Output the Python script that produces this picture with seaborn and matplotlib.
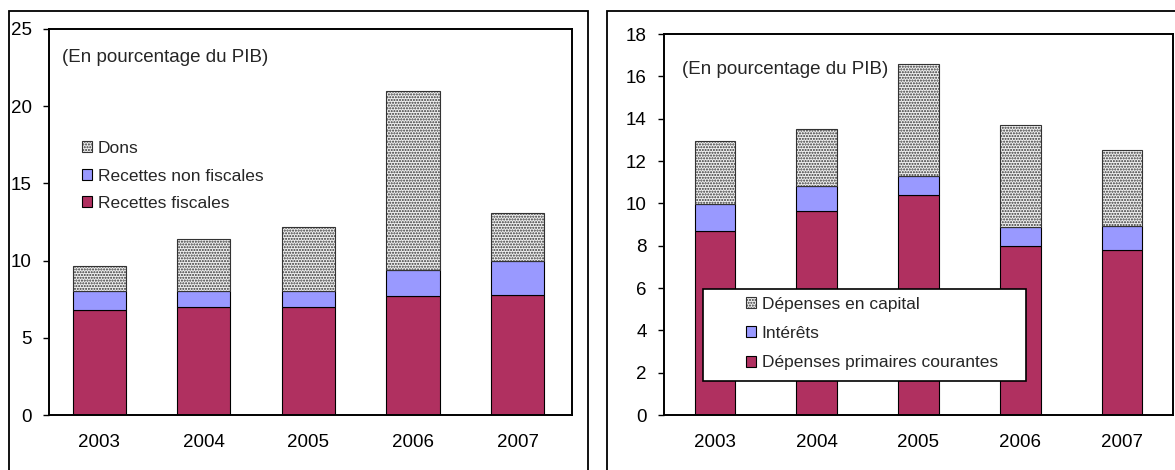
import numpy as np
import pandas as pd
import matplotlib
matplotlib.use("Agg")
import matplotlib.pyplot as plt
import seaborn as sns
from matplotlib.patches import Rectangle

annees = ['2003', '2004', '2005', '2006', '2007']

# Recettes (en % du PIB)
recettes_fiscales = [6.8, 7.0, 7.0, 7.7, 7.8]
recettes_non_fiscales = [1.2, 1.0, 1.0, 1.7, 2.2]
dons = [1.65, 3.4, 4.2, 11.6, 3.1]

# Dépenses (en % du PIB)
depenses_primaires = [8.7, 9.65, 10.4, 8.0, 7.8]
interets = [1.25, 1.15, 0.9, 0.9, 1.15]
depenses_capital = [3.0, 2.7, 5.3, 4.8, 3.55]

rouge = '#B03060'
lavande = '#9999FF'
taille = 13.5
taille_leg = 12.5

sns.set_theme(style='white')
plt.rcParams['font.family'] = ['Liberation Sans', 'DejaVu Sans']
plt.rcParams['hatch.linewidth'] = 1.0
plt.rcParams['hatch.color'] = '#444444'

fig = plt.figure(figsize=(11.75, 4.7), dpi=100)

# cadres extérieurs
fig.add_artist(Rectangle((0.0077, -0.05), 0.4928, 1.027, transform=fig.transFigure,
                         fill=False, edgecolor='black', linewidth=1.3))
fig.add_artist(Rectangle((0.5166, -0.05), 0.49, 1.027, transform=fig.transFigure,
                         fill=False, edgecolor='black', linewidth=1.3))

ax1 = fig.add_axes([0.0417, 0.117, 0.4451, 0.8213])
ax2 = fig.add_axes([0.5651, 0.117, 0.4332, 0.8106])


def empiler(ax, couches, largeur):
    bas = np.zeros(len(annees))
    for valeurs, couleur, motif, nom in couches:
        df = pd.DataFrame({'annee': annees, 'val': valeurs})
        if motif:
            sns.barplot(data=df, x='annee', y='val', ax=ax, color='#f0f0f0', width=largeur,
                        bottom=bas, edgecolor='#333333', hatch=motif, linewidth=0.8,
                        saturation=1, label=nom, errorbar=None)
        else:
            sns.barplot(data=df, x='annee', y='val', ax=ax, color=couleur, width=largeur,
                        bottom=bas, edgecolor='black', linewidth=0.8,
                        saturation=1, label=nom, errorbar=None)
        bas = bas + np.array(valeurs)


empiler(ax1, [(recettes_fiscales, rouge, None, 'Recettes fiscales'),
              (recettes_non_fiscales, lavande, None, 'Recettes non fiscales'),
              (dons, None, '......', 'Dons')], 0.51)
empiler(ax2, [(depenses_primaires, rouge, None, 'Dépenses primaires courantes'),
              (interets, lavande, None, 'Intérêts'),
              (depenses_capital, None, '......', 'Dépenses en capital')], 0.4)

for ax, ymax, pas in [(ax1, 25, 5), (ax2, 18, 2)]:
    ax.set_ylim(0, ymax)
    ax.set_yticks(np.arange(0, ymax + 0.1, pas))
    ax.set_xlabel('')
    ax.set_ylabel('')
    for s in ax.spines.values():
        s.set_visible(True)
        s.set_color('black')
        s.set_linewidth(1.4)
    ax.tick_params(axis='y', which='major', left=True, length=4, width=1, pad=8.5,
                   labelsize=taille, colors='black')
    ax.tick_params(axis='x', length=0, pad=14, labelsize=taille, colors='black')

ax1.set_xlim(-0.48, 4.52)
ax2.set_xlim(-0.5, 4.5)

ax1.text(0.025, 0.927, '(En pourcentage du PIB)', transform=ax1.transAxes,
         fontsize=taille, va='center', ha='left')
ax2.text(0.035, 0.908, '(En pourcentage du PIB)', transform=ax2.transAxes,
         fontsize=taille, va='center', ha='left')

h1, l1 = ax1.get_legend_handles_labels()
ax1.legend(h1[::-1], l1[::-1], loc='center left', bbox_to_anchor=(0.063, 0.619),
           frameon=False, fontsize=taille_leg, handlelength=0.6, handleheight=0.6,
           handletextpad=0.3, labelspacing=0.72, borderpad=0, borderaxespad=0)

ax2.add_patch(Rectangle((0.077, 0.089), 0.634, 0.242, transform=ax2.transAxes,
                        facecolor='white', edgecolor='black', linewidth=1.2, zorder=5))
h2, l2 = ax2.get_legend_handles_labels()
leg2 = ax2.legend(h2[::-1], l2[::-1], loc='center left', bbox_to_anchor=(0.161, 0.214),
                  frameon=False, fontsize=taille_leg, handlelength=0.6, handleheight=0.6,
                  handletextpad=0.3, labelspacing=0.82, borderpad=0, borderaxespad=0)
leg2.set_zorder(6)

fig.savefig('out.png', dpi=100)
